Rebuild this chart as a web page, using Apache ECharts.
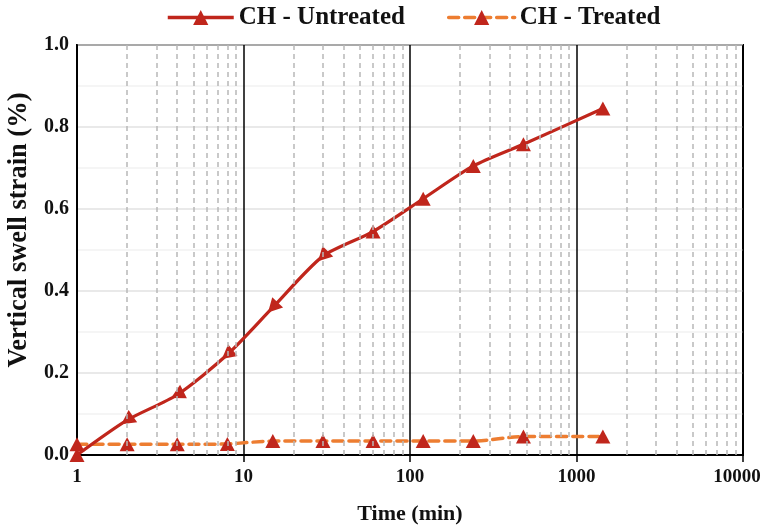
<!DOCTYPE html>
<html>
<head>
<meta charset="utf-8">
<script src="https://cdn.jsdelivr.net/npm/echarts@6/dist/echarts.min.js"></script>
<style>
  html, body { margin: 0; padding: 0; background: #fff; }
  #chart { width: 762px; height: 530px; }
</style>
</head>
<body>
<div id="chart"></div>
<script>
// Swell test readings: elapsed time (min) and vertical swell strain (%)
const timeMin = [1, 2, 4, 8, 15, 30, 60, 120, 240, 480, 1440];
const untreated = [0.0, 0.085, 0.147, 0.245, 0.36, 0.485, 0.545, 0.625, 0.705, 0.758, 0.845];
const treated = [0.026, 0.026, 0.026, 0.027, 0.034, 0.034, 0.034, 0.034, 0.034, 0.045, 0.045];
const seriesNames = ['CH - Untreated', 'CH - Treated'];
const xTicks = [1, 10, 100, 1000, 10000];
const yTicks = [0, 0.2, 0.4, 0.6, 0.8, 1.0];

const FONT = '"Liberation Serif", "Times New Roman", serif';
const RED = '#C0261C';
const ORANGE = '#ED7D31';
const X_MAX = xTicks[xTicks.length - 1];

// Intermediate log grid positions (2..9 within each decade)
const minorX = [];
for (let d = 0; d < xTicks.length - 1; d++) {
  for (let m = 2; m <= 9; m++) minorX.push(m * xTicks[d]);
}

const pairs = (ys) => timeMin.map((t, i) => [t, ys[i]]);

const chart = echarts.init(document.getElementById('chart'), null, { renderer: 'canvas' });
chart.setOption({
  animation: false,
  backgroundColor: '#fff',
  textStyle: { fontFamily: FONT },
  legend: {
    top: 0,
    left: 161,
    itemWidth: 66,
    itemHeight: 19,
    itemGap: 42,
    data: seriesNames,
    lineStyle: { width: 3.5 },
    textStyle: { fontFamily: FONT, fontWeight: 'bold', fontSize: 25, color: '#111' }
  },
  grid: {
    left: 77, right: 19, top: 45, bottom: 75,
    outerBoundsMode: 'none',
    containLabel: false,
    show: true, borderColor: '#000', borderWidth: 2, backgroundColor: 'transparent'
  },
  xAxis: {
    type: 'log',
    logBase: 10,
    min: xTicks[0],
    max: X_MAX,
    name: 'Time (min)',
    nameLocation: 'middle',
    nameGap: 48,
    nameTextStyle: { fontFamily: FONT, fontWeight: 'bold', fontSize: 22, color: '#111' },
    axisLine: { lineStyle: { color: '#000', width: 2 } },
    axisTick: { show: true, length: 7, lineStyle: { color: '#000', width: 1.5 } },
    axisLabel: {
      margin: 13, fontFamily: FONT, fontWeight: 'bold', fontSize: 19, color: '#111',
      formatter: (v) => {
        const s = String(Math.round(v));
        // keep the last label inside the canvas
        return Math.round(v) === X_MAX ? '{last|' + s + '}' : s;
      },
      rich: {
        last: { fontFamily: FONT, fontWeight: 'bold', fontSize: 19, color: '#111', padding: [0, 12, 0, 0] }
      }
    },
    splitLine: { show: true, lineStyle: { color: '#000', width: 1.5 } },
    minorTick: { show: false },
    minorSplitLine: { show: false }
  },
  yAxis: {
    type: 'value',
    min: yTicks[0],
    max: yTicks[yTicks.length - 1],
    interval: 0.2,
    name: 'Vertical swell strain (%)',
    nameLocation: 'middle',
    nameGap: 43,
    nameTextStyle: {
      fontFamily: FONT, fontWeight: 'bold', fontSize: 26.5, color: '#111',
      padding: [0, 0, 0, 40]
    },
    axisLine: { show: true, lineStyle: { color: '#000', width: 2 } },
    axisTick: { show: false },
    axisLabel: {
      margin: 8, fontFamily: FONT, fontWeight: 'bold', fontSize: 20, color: '#111',
      formatter: (v) => v.toFixed(1)
    },
    splitLine: { show: true, lineStyle: { color: '#e2e2e2', width: 1.5 } },
    minorTick: { show: false, splitNumber: 2 },
    minorSplitLine: { show: true, lineStyle: { color: '#f2f2f2', width: 1.5 } }
  },
  series: [
    {
      // dashed minor grid at 2..9 of each decade
      type: 'line',
      name: '__grid',
      data: [],
      silent: true,
      z: 1,
      markLine: {
        silent: true,
        symbol: 'none',
        label: { show: false },
        animation: false,
        lineStyle: { color: '#b8b8b8', width: 1.5, type: [5, 4] },
        data: minorX.map((v) => ({ xAxis: v }))
      }
    },
    {
      name: seriesNames[0],
      type: 'line',
      data: pairs(untreated),
      smooth: 0.25,
      z: 4,
      symbol: 'triangle',
      symbolSize: [15, 14],
      lineStyle: { color: RED, width: 3.2 },
      itemStyle: { color: RED }
    },
    {
      name: seriesNames[1],
      type: 'line',
      data: pairs(treated),
      smooth: 0.25,
      z: 3,
      symbol: 'triangle',
      symbolSize: [15, 14],
      lineStyle: { color: ORANGE, width: 3.5, type: [10, 6], cap: 'round' },
      itemStyle: { color: RED }
    }
  ]
});

// On the steep early part of the untreated curve the markers point back
// along the line, like arrowheads; turn them to the incoming segment's angle.
const px = pairs(untreated).map((p) => chart.convertToPixel({ xAxisIndex: 0, yAxisIndex: 0 }, p));
const turned = pairs(untreated).map((p, i) => {
  if (i < 1 || i > 5) return p;
  const dx = px[i][0] - px[i - 1][0];
  const dyUp = px[i - 1][1] - px[i][1];
  const ang = Math.atan2(dyUp, dx) * 180 / Math.PI;
  return { value: p, symbolRotate: 90 + ang };
});
chart.setOption({ series: [{}, { data: turned }, {}] });
</script>
</body>
</html>
